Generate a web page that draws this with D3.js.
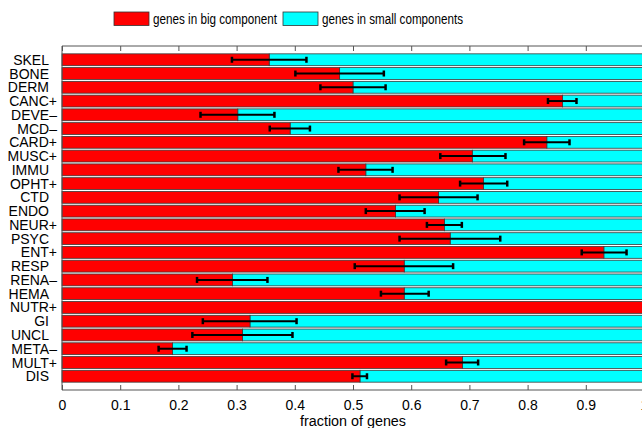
<!DOCTYPE html>
<html>
<head>
<meta charset="utf-8">
<script src="https://cdn.jsdelivr.net/npm/d3@7"></script>
<style>
  body { margin: 0; background: #fff; }
  svg { display: block; font-family: "Liberation Sans", Arial, Helvetica, sans-serif; }
</style>
</head>
<body>
<script>
// categories top to bottom
const categories = ['SKEL', 'BONE', 'DERM', 'CANC+', 'DEVE–', 'MCD–', 'CARD+', 'MUSC+', 'IMMU',
  'OPHT+', 'CTD', 'ENDO', 'NEUR+', 'PSYC', 'ENT+', 'RESP', 'RENA–', 'HEMA', 'NUTR+', 'GI',
  'UNCL', 'META–', 'MULT+', 'DIS'];
// fraction of genes in the big component
const bigFraction = [0.356, 0.477, 0.500, 0.860, 0.302, 0.392, 0.833, 0.705, 0.522,
  0.724, 0.647, 0.573, 0.657, 0.667, 0.931, 0.588, 0.293, 0.588, 1.000, 0.323,
  0.310, 0.190, 0.688, 0.512];
// error bar ends
const errLow = [0.292, 0.401, 0.444, 0.835, 0.238, 0.357, 0.794, 0.650, 0.475,
  0.684, 0.580, 0.522, 0.627, 0.580, 0.893, 0.503, 0.232, 0.548, 1.000, 0.242,
  0.224, 0.166, 0.660, 0.499];
const errHigh = [0.420, 0.553, 0.556, 0.884, 0.365, 0.426, 0.872, 0.762, 0.568,
  0.765, 0.714, 0.623, 0.687, 0.753, 0.970, 0.672, 0.353, 0.630, 1.000, 0.403,
  0.396, 0.214, 0.715, 0.524];
const xTicks = [0, 0.1, 0.2, 0.3, 0.4, 0.5, 0.6, 0.7, 0.8, 0.9, 1];
const legendLabels = ['genes in big component', 'genes in small components'];
const colors = ['#ff0000', '#00ffff'];

const W = 642, H = 428;
const m = { left: 62, right: 644, top: 46, bottom: 390 };

const svg = d3.select('body').append('svg')
  .attr('width', W).attr('height', H);

const x = d3.scaleLinear().domain([0, 1]).range([m.left, m.right]);
const y = d3.scaleLinear().domain([0, categories.length + 1]).range([m.top, m.bottom]);
const barH = (y(1) - y(0)) * 0.86;

const rows = categories.map((c, i) => ({
  name: c, v: bigFraction[i], lo: errLow[i], hi: errHigh[i], pos: i + 1
}));

// stacked bars: big component then the rest up to 1
const g = svg.append('g');
g.selectAll('rect.small').data(rows).join('rect')
  .attr('class', 'small')
  .attr('x', d => x(d.v))
  .attr('y', d => y(d.pos) - barH / 2)
  .attr('width', d => x(1) - x(d.v))
  .attr('height', barH)
  .attr('fill', colors[1])
  .attr('stroke', '#3a3a3a').attr('stroke-width', 0.8);

g.selectAll('rect.big').data(rows).join('rect')
  .attr('class', 'big')
  .attr('x', x(0))
  .attr('y', d => y(d.pos) - barH / 2)
  .attr('width', d => x(d.v) - x(0))
  .attr('height', barH)
  .attr('fill', colors[0])
  .attr('stroke', '#3a3a3a').attr('stroke-width', 0.8);

// error bars
const eb = g.selectAll('g.err').data(rows.filter(d => d.hi > d.lo)).join('g').attr('class', 'err');
eb.append('line')
  .attr('x1', d => x(d.lo)).attr('x2', d => x(d.hi))
  .attr('y1', d => y(d.pos)).attr('y2', d => y(d.pos))
  .attr('stroke', '#000').attr('stroke-width', 2);
eb.selectAll('line.cap').data(d => [[d.lo, d.pos], [d.hi, d.pos]]).join('line')
  .attr('class', 'cap')
  .attr('x1', d => x(d[0])).attr('x2', d => x(d[0]))
  .attr('y1', d => y(d[1]) - 3).attr('y2', d => y(d[1]) + 3)
  .attr('stroke', '#000').attr('stroke-width', 2.5);

// axes box lines
const axisColor = '#555';
svg.append('line').attr('x1', m.left).attr('x2', m.right).attr('y1', m.top).attr('y2', m.top)
  .attr('stroke', axisColor);
svg.append('line').attr('x1', m.left).attr('x2', m.right).attr('y1', m.bottom).attr('y2', m.bottom)
  .attr('stroke', axisColor);
svg.append('line').attr('x1', m.left).attr('x2', m.left).attr('y1', m.top).attr('y2', m.bottom)
  .attr('stroke', axisColor);

// ticks pointing inward
const bottomAxis = d3.axisBottom(x).tickValues(xTicks).tickSize(-5).tickPadding(10)
  .tickFormat(d => d === 0 ? '0' : d === 1 ? '1' : d3.format('.1f')(d));
const ba = svg.append('g').attr('transform', `translate(0,${m.bottom})`).call(bottomAxis);
ba.select('.domain').remove();
ba.selectAll('line').attr('stroke', axisColor);
ba.selectAll('text').attr('font-size', 14).attr('fill', '#000');
ba.attr('font-family', null);

const topAxis = d3.axisTop(x).tickValues(xTicks).tickSize(-5).tickFormat('');
const ta = svg.append('g').attr('transform', `translate(0,${m.top})`).call(topAxis);
ta.select('.domain').remove();
ta.selectAll('line').attr('stroke', axisColor);

// category labels
svg.append('g').selectAll('text').data(rows).join('text')
  .attr('x', d => /[+–]$/.test(d.name) ? m.left - 5 : m.left - 13)
  .attr('y', d => y(d.pos))
  .attr('dy', '0.36em')
  .attr('text-anchor', 'end')
  .attr('font-size', 14)
  .text(d => d.name);

// x axis title
svg.append('text')
  .attr('x', (m.left + m.right) / 2).attr('y', 426)
  .attr('text-anchor', 'middle')
  .attr('font-size', 14)
  .attr('textLength', 106).attr('lengthAdjust', 'spacingAndGlyphs')
  .text('fraction of genes');

// legend
const legendX = [114, 283];
const legendW = [124, 141];
const lg = svg.append('g').selectAll('g').data(legendLabels).join('g')
  .attr('transform', (d, i) => `translate(${legendX[i]},12)`);
lg.append('rect').attr('width', 35).attr('height', 13.5)
  .attr('fill', (d, i) => colors[i]).attr('stroke', '#333').attr('stroke-width', 0.8);
lg.append('text').attr('x', 39).attr('y', 7).attr('dy', '0.36em')
  .attr('font-size', 14)
  .attr('textLength', (d, i) => legendW[i]).attr('lengthAdjust', 'spacingAndGlyphs')
  .text(d => d);
</script>
</body>
</html>
